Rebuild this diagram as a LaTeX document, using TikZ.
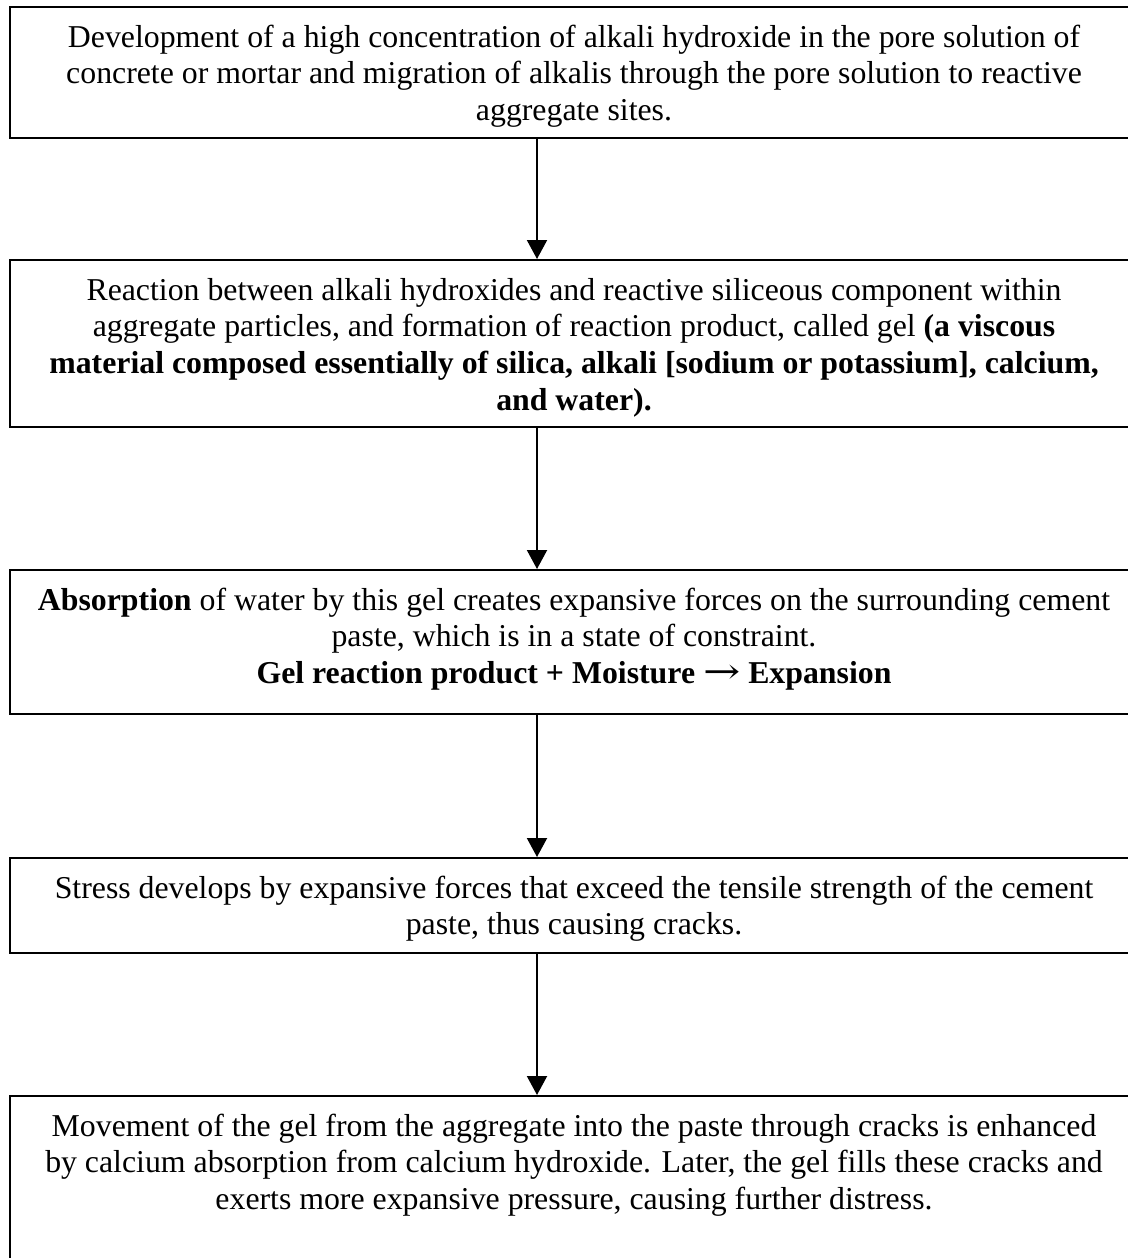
\documentclass[tikz,border=0pt]{standalone}
\usepackage{fontspec}
\usepackage{graphicx}
\setmainfont{Liberation Serif}
\newfontfamily\arrowfont{DejaVu Serif}
\usetikzlibrary{arrows.meta}
\newcommand{\boxtext}[2]{\begin{minipage}[t][#1][t]{1128pt}\centering\fontsize{31.8pt}{36.7pt}\selectfont\rule{0pt}{40pt}#2\end{minipage}}
\begin{document}
\begin{tikzpicture}[x=1pt,y=1pt,
  box/.style={draw, line width=2pt, inner sep=0pt, anchor=north west},
  flow/.style={-{Triangle[width=20pt,length=19pt]}, line width=2pt}]
\useasboundingbox (0,0) rectangle (1127,-1258);
\coordinate (ax) at (537,0);
\node[box] (b1) at (9,-6) {\boxtext{131pt}{Development of a high concentration of alkali hydroxide in the pore solution of\\
concrete or mortar and migration of alkalis through the pore solution to reactive\\
aggregate sites.}};
\node[box] (b2) at (9,-259) {\boxtext{167pt}{Reaction between alkali hydroxides and reactive siliceous component within\\
aggregate particles, and formation of reaction product, called gel \textbf{(a viscous}\\
\textbf{material composed essentially of silica, alkali [sodium or potassium], calcium,}\\
\textbf{and water).}}};
\node[box] (b3) at (9,-569) {\boxtext{144pt}{\textbf{Absorption} of water by this gel creates expansive forces on the surrounding cement\\
paste, which is in a state of constraint.\\
\textbf{Gel reaction product + Moisture {\arrowfont\mdseries\scalebox{1.4}[1.1]{→}} Expansion}}};
\node[box] (b4) at (9,-857) {\boxtext{95pt}{Stress develops by expansive forces that exceed the tensile strength of the cement\\
paste, thus causing cracks.}};
\node[box] (b5) at (9,-1095) {\boxtext{205pt}{Movement of the gel from the aggregate into the paste through cracks is enhanced\\
by calcium absorption from calcium hydroxide. Later, the gel fills these cracks and\\
exerts more expansive pressure, causing further distress.}};
\draw[flow] (b1.south -| ax) -- (b2.north -| ax);
\draw[flow] (b2.south -| ax) -- (b3.north -| ax);
\draw[flow] (b3.south -| ax) -- (b4.north -| ax);
\draw[flow] (b4.south -| ax) -- (b5.north -| ax);
\end{tikzpicture}
\end{document}
